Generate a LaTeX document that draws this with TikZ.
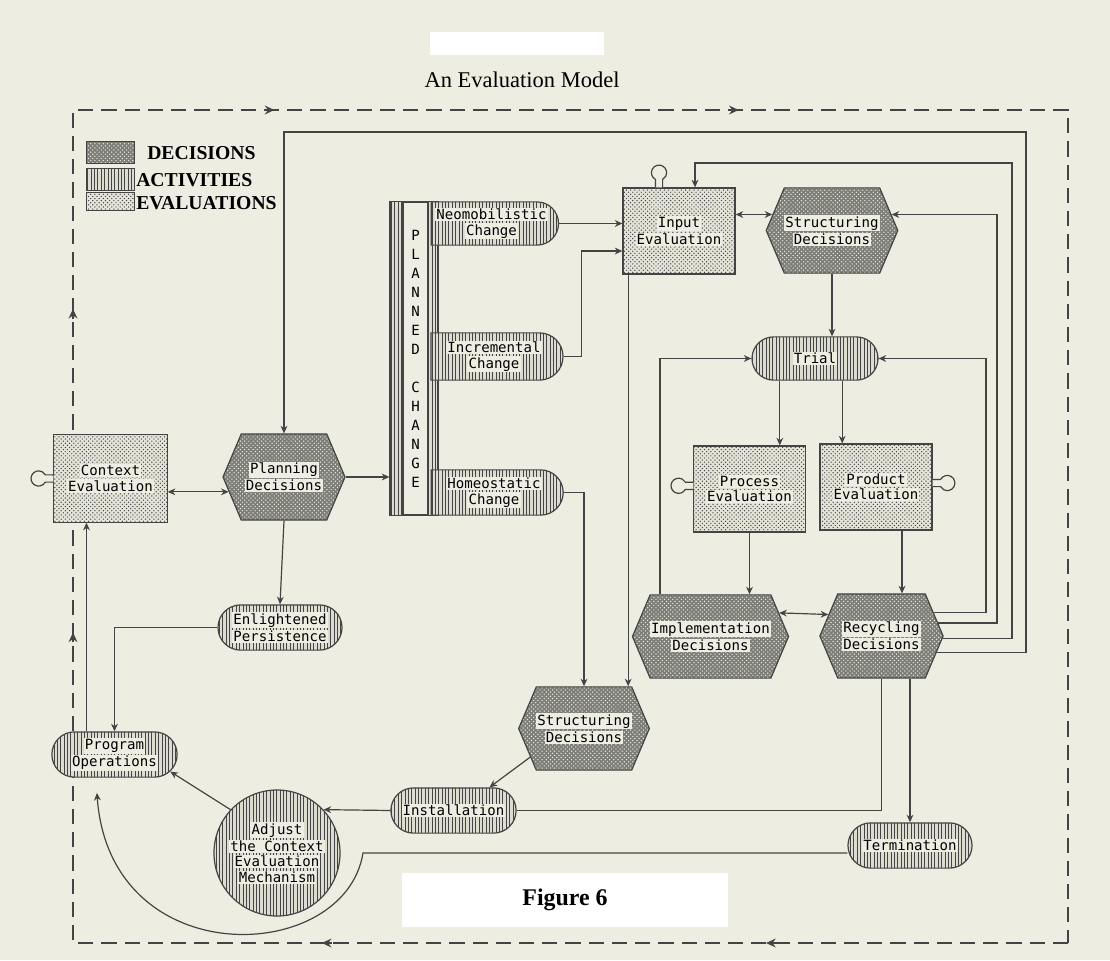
\documentclass[tikz,border=0pt]{standalone}
\usepackage{fontspec}
\setmainfont{Liberation Serif}
\newfontfamily\dotfont{DejaVu Sans Mono}
\usetikzlibrary{positioning,shapes.misc,shapes.symbols,patterns,patterns.meta,arrows.meta,decorations.markings}

\definecolor{paper}{HTML}{EDEDE1}
\definecolor{ink}{HTML}{444444}
\definecolor{deccol}{HTML}{7E7E79}
\definecolor{actbg}{HTML}{DCDCD1}
\definecolor{evalbg}{HTML}{E4E4D9}

\newcommand{\plate}[1]{{\setlength{\fboxsep}{0.8pt}\colorbox{paper}{#1}}}
% lollipop knob on an evaluation box
\newcommand{\knob}[2]{%
  \begin{scope}[shift={#1}, rotate=#2]
    \draw[wire, fill=paper] (0cm,0.09cm) -- (0.2cm,0.09cm)
      arc[start angle=151.6, end angle=-151.6, radius=0.19cm] -- (0cm,-0.09cm);
  \end{scope}}
% solid arrow mark on the dashed loop
\newcommand{\flowmark}{\draw[solid, draw=ink, line width=1.1pt, -{Stealth[length=2.4mm,width=2.2mm]}] (-0.15cm,0) -- (0.1cm,0);}

\begin{document}
\begin{tikzpicture}[x=0.025cm, y=-0.025cm,
    wire/.style={draw=ink, line width=0.85pt},
    arr/.style={wire, -{Stealth[length=1.9mm,width=1.7mm]}},
    arr2/.style={wire, {Stealth[length=1.9mm,width=1.7mm]}-{Stealth[length=1.9mm,width=1.7mm]}},
    frame/.style={draw=ink, line width=1.1pt, dash pattern=on 0.38cm off 0.2cm},
    decfill/.style={preaction={fill=deccol}, pattern=crosshatch dots, pattern color=paper},
    actfill/.style={preaction={fill=actbg}, pattern={Lines[angle=90,distance=2.4pt,line width=0.6pt]}, pattern color=ink},
    evalfill/.style={preaction={fill=evalbg}, pattern=crosshatch dots, pattern color=ink},
    dotlabel/.style={font=\dotfont\fontsize{10}{11}\selectfont, align=center, inner sep=0pt},
    decision/.style={signal, signal to=east and west, signal pointer angle=134, wire, decfill, dotlabel},
    activity/.style={rounded rectangle, wire, actfill, dotlabel},
    evaluation/.style={rectangle, wire, evalfill, dotlabel},
    legend/.style={font=\fontsize{14}{16}\selectfont\bfseries, inner sep=0pt, anchor=west}]

  \useasboundingbox (0,0) rectangle (1110,960);
  \fill[paper] (0,0) rectangle (1110,960);
  \fill[white] (430,32) rectangle (604,55);

  % dashed outer loop
  \draw[frame, postaction={decorate}, decoration={markings,
      mark=at position 0.0815 with {\flowmark},
      mark=at position 0.203 with {\flowmark},
      mark=at position 0.356 with {\flowmark},
      mark=at position 0.4445 with {\flowmark},
      mark=at position 0.554 with {\flowmark},
      mark=at position 0.681 with {\flowmark}}]
    (1068,943) -- (73,943) -- (73,110) -- (1068,110) -- cycle;

  \node[font=\fontsize{16}{19}\selectfont] (title) at (522,80) {An Evaluation Model};

  % legend
  \node[wire, decfill, minimum width=1.18cm, minimum height=0.53cm] (sw-dec) at (110.5,152.5) {};
  \node[wire, actfill, minimum width=1.18cm, minimum height=0.53cm] (sw-act) at (110.5,179.5) {};
  \node[wire, evalfill, minimum width=1.18cm, minimum height=0.43cm] (sw-eval) at (110.5,201.5) {};
  \node[legend] (lg-dec) at (147,153) {DECISIONS};
  \node[legend] (lg-act) at (136,180) {ACTIVITIES};
  \node[legend] (lg-eval) at (136,203) {EVALUATIONS};

  % planned change block
  \node[rectangle, wire, actfill, minimum width=1.2cm, minimum height=7.83cm, inner sep=0pt] (pc) at (414,358.5) {};
  \draw[wire, fill=paper] (403,202) rectangle (428,515);
  \foreach \ch [count=\i] in {P,L,A,N,N,E,D,{},C,H,A,N,G,E}
    \node[dotlabel] at (415.5,216+19*\i) {\ch};
  \node[activity, rounded rectangle west arc=none, minimum width=3.18cm, minimum height=1.08cm] (neo) at (491.5,223.5) {\plate{Neomobilistic}\\\plate{Change}};
  \node[activity, rounded rectangle west arc=none, minimum width=3.3cm, minimum height=1.18cm] (incr) at (494,356.5) {\plate{Incremental}\\\plate{Change}};
  \node[activity, rounded rectangle west arc=none, minimum width=3.3cm, minimum height=1.13cm] (homeo) at (494,492.5) {\plate{Homeostatic}\\\plate{Change}};

  % evaluations
  \node[evaluation, minimum width=2.83cm, minimum height=2.18cm] (ctx) at (110.5,478.5) {\plate{Context}\\\plate{Evaluation}};
  \node[evaluation, minimum width=2.8cm, minimum height=2.15cm] (inp) at (679,231) {\plate{Input}\\\plate{Evaluation}};
  \node[evaluation, minimum width=2.78cm, minimum height=2.15cm] (proc) at (749.5,489) {\plate{Process}\\\plate{Evaluation}};
  \node[evaluation, minimum width=2.8cm, minimum height=2.15cm] (prod) at (876,487) {\plate{Product}\\\plate{Evaluation}};
  \knob{(ctx.west)}{180}
  \knob{([xshift=-0.5cm]inp.north)}{90}
  \knob{([yshift=0.08cm]proc.west)}{180}
  \knob{([yshift=0.1cm]prod.east)}{0}

  % decisions
  \node[decision, minimum width=3.05cm, minimum height=2.15cm] (plan) at (284,477) {\plate{Planning}\\\plate{Decisions}};
  \node[decision, minimum width=3.1cm, minimum height=2.13cm] (str1) at (832,230.5) {\plate{Structuring}\\\plate{Decisions}};
  \node[decision, minimum width=3.58cm, minimum height=2.08cm] (impl) at (710.5,636.5) {\plate{Implementation}\\\plate{Decisions}};
  \node[decision, minimum width=3.08cm, minimum height=2.1cm] (recy) at (881.5,636) {\plate{Recycling}\\\plate{Decisions}};
  \node[decision, minimum width=3.0cm, minimum height=2.08cm] (str2) at (584,728.5) {\plate{Structuring}\\\plate{Decisions}};

  % activities
  \node[activity, minimum width=3.15cm, minimum height=1.08cm] (trial) at (815,358.5) {\plate{Trial}};
  \node[activity, minimum width=3.1cm, minimum height=1.13cm] (enl) at (280,627.5) {\plate{Enlightened}\\\plate{Persistence}};
  \node[activity, minimum width=3.13cm, minimum height=1.13cm] (prog) at (114.5,754.5) {\plate{Program}\\\plate{Operations}};
  \node[activity, minimum width=3.13cm, minimum height=1.13cm] (inst) at (453.5,810.5) {\plate{Installation}};
  \node[activity, minimum width=3.1cm, minimum height=1.13cm] (term) at (910,845.5) {\plate{Termination}};
  \node[circle, wire, actfill, dotlabel, minimum size=3.15cm] (adj) at (277,853) {\plate{Adjust}\\\plate{the Context}\\\plate{Evaluation}\\\plate{Mechanism}};

  \node[fill=white, minimum width=8.15cm, minimum height=1.35cm, font=\fontsize{17}{20}\selectfont\bfseries] (fig) at (565,900) {Figure 6};

  % lanes on the right
  \coordinate (lane1) at (1026,132);
  \coordinate (lane2) at (1012,163);
  \coordinate (lane3) at (997,0);
  \coordinate (lane4) at (986,0);
  \coordinate (bend) at (363,853);

  % connectors
  \draw[arr2] (ctx.east |- plan.195) -- (plan.195);
  \draw[arr] (plan.east) -- (plan.east -| pc.west);
  \draw[arr] (plan.south) -- (enl.north);
  \draw[arr] (enl.west) -| (prog.north);
  \draw[arr] ([xshift=-0.7cm]prog.north) -- ([xshift=-0.7cm]prog.north |- ctx.south);
  \draw[arr] (neo.east) -- (neo.east -| inp.west);
  \draw[arr] (incr.east) -- ++(0.45cm,0) |- ([yshift=-0.5cm]inp.west);
  \draw[arr] (homeo.east) -| (str2.north);
  \draw[arr] ([xshift=-1.27cm]inp.south) -- ([xshift=-1.27cm]inp.south |- str2.north);
  \draw[arr2] (inp.east |- str1.165) -- (str1.165);
  \draw[arr] (str1.south) -- (str1.south |- trial.north);
  \draw[arr] ([xshift=-0.88cm]trial.south) -- ([xshift=-0.88cm]trial.south |- proc.north);
  \draw[arr] ([xshift=0.68cm]trial.south) -- ([xshift=0.68cm]trial.south |- prod.north);
  \draw[arr] (proc.south) -- (proc.south |- impl.north);
  \draw[arr] ([xshift=0.65cm]prod.south) -- ([xshift=0.65cm]prod.south |- recy.north);
  \draw[arr] ([xshift=-1.26cm]impl.north) |- (trial.west);
  \draw[arr2] (impl.19) -- (recy.158);
  \draw[arr] (recy.24) -| (lane4 |- trial.east) -- (trial.east);
  \draw[arr] (recy.13) -| (lane3 |- str1.15) -- (str1.15);
  \draw[arr] (recy.-2) -| (lane2) -| ([xshift=0.4cm]inp.north);
  \draw[arr] (recy.-17) -| (lane1) -| (plan.north);
  \draw[arr] (term.north |- recy.south) -- (term.north);
  \draw[wire] (recy.south) |- (inst.east);
  \draw[arr] (str2.208) -- ([xshift=0.9cm]inst.north);
  \draw[arr] (inst.west) -- (adj.43);
  \draw[arr] (adj.137) -- (prog.-17);
  \draw[arr] (term.west |- bend) -- (bend) .. controls (345,965) and (110,975) .. ([xshift=-0.44cm,yshift=-0.38cm]prog.south);
\end{tikzpicture}
\end{document}
